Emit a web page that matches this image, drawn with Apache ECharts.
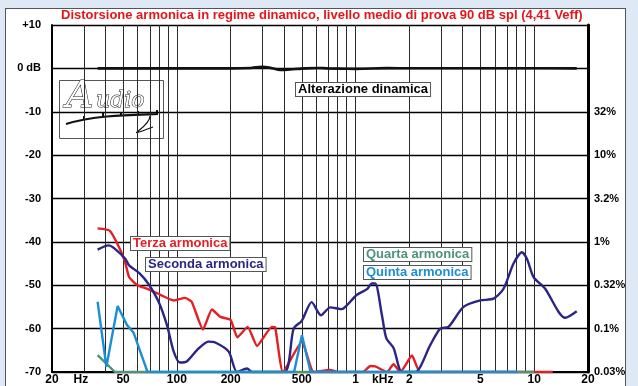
<!DOCTYPE html>
<html>
<head>
<meta charset="utf-8">
<script src="https://cdn.jsdelivr.net/npm/echarts@6/dist/echarts.min.js"></script>
<style>
  html, body { margin: 0; padding: 0; background: #dfe9f5; }
  #panel { position: absolute; left: 5px; top: 8px; width: 621px; height: 380px; background: #fff; border: 1px solid #555; box-sizing: border-box; }
  #chart { position: absolute; left: 0; top: 0; width: 638px; height: 386px; }
</style>
</head>
<body>
<div id="panel"></div>
<div id="chart"></div>
<script>
// Frequency axis: tick labels and where they sit (Hz)
const freqLabelPos  = [20, 29, 50, 100, 200, 500, 1000, 1420, 2000, 5000, 10000, 20000];
const freqLabelText = ['20', 'Hz', '50', '100', '200', '500', '1', 'kHz', '2', '5', '10', '20'];
// Vertical grid lines (Hz)
const gridFreqs = [30, 40, 50, 60, 70, 80, 90,
                   100, 200, 300, 400, 500, 600, 700, 800, 900,
                   1000, 2000, 3000, 4000, 5000, 6000, 7000, 8000, 9000, 10000];
// Right-hand scale: distortion percentage at each dB line
const pctTicks  = [-10, -20, -30, -40, -50, -60, -70];
const pctLabels = ['32%', '10%', '3.2%', '1%', '0.32%', '0.1%', '0.03%'];

// Seconda armonica (dB)
const secondaFreq = [36, 41.5, 45, 51.4, 54, 62, 69, 79, 88, 96, 104, 114, 130, 150, 164, 195, 217, 247, 263,
                     400, 450, 500, 568, 640, 722, 840, 896, 1018, 1159, 1234, 1289, 1405, 1486, 1634, 1820,
                     2160, 2618, 2978, 3313, 4020, 4986, 5921, 6733, 7660, 8530, 9100, 9915, 11520, 13670, 14900, 17300];
const secondaDb   = [-41.8, -40.8, -41.6, -43.9, -45.4, -47.3, -49.6, -53.8, -59.2, -65.3, -67.8, -67.5, -64.9, -63.0, -63.2, -65.3, -70, -69.2, -70,
                     -70, -60.0, -58.2, -53.9, -56.9, -55.1, -55.5, -54.6, -52.2, -50.9, -49.6, -49.6, -56.9, -62.2, -64.5, -70,
                     -70, -63.8, -60.0, -59.6, -55.0, -53.5, -53.1, -50.8, -45.0, -42.4, -43.9, -48.1, -50.8, -56.1, -57.5, -56.0];
// Terza armonica (dB)
const terzaFreq = [36, 42, 46, 51, 54, 60, 68, 81, 96, 111, 121, 140, 157, 175, 200, 218, 249, 281, 340, 355, 392,
                   501, 582, 720, 800, 1100, 1210, 1290, 1500, 1630, 1780, 2070, 2300, 12700];
const terzaDb   = [-36.9, -37.4, -40.1, -44.3, -48.1, -50.0, -50.8, -52.2, -53.5, -52.9, -53.8, -60.2, -55.6, -57.3, -58.0, -62.0, -59.6, -64.0, -59.6, -59.7, -70,
                   -63.0, -70, -69.5, -70, -70, -68.6, -68.7, -70, -68.2, -70, -66.2, -70, -70];
// Quarta armonica (dB)
const quartaFreq = [36, 45, 10000];
const quartaDb   = [-66.1, -70, -70];
// Quinta armonica (dB)
const quintaFreq = [36, 40.3, 46.6, 52.6, 57.2, 68.5, 453, 501, 560, 8000];
const quintaDb   = [-53.8, -68.8, -54.8, -59.2, -60.9, -70, -70, -61.5, -70, -70];
// Alterazione dinamica (dB)
const alterFreq = [36, 100, 200, 260, 300, 340, 380, 430, 500, 620, 700, 900, 1000, 1500, 2000, 5000, 10000, 17300];
const alterDb   = [0, 0, 0, 0.1, 0.35, 0.05, -0.35, -0.25, -0.05, 0.1, 0, -0.1, -0.12, 0.05, 0.03, 0.03, 0.03, 0];

const lg = Math.log10;
const toPoints = (fs, vs) => fs.map((f, i) => [lg(f), vs[i]]);
const FONT = '"Liberation Sans", Arial, sans-serif';

function freqLabel(v) {
  for (let i = 0; i < freqLabelPos.length; i++) {
    if (Math.abs(lg(freqLabelPos[i]) - v) < 1e-6) return freqLabelText[i];
  }
  return '';
}

function curve(name, fs, vs, color, z, smooth, width) {
  return {
    name, type: 'line', data: toPoints(fs, vs), z,
    showSymbol: false, smooth: smooth,
    lineStyle: { color, width: width || 2.4 },
    emphasis: { disabled: true }, silent: true
  };
}

function boxLabel(x, y, text, color) {
  return {
    type: 'text', left: x, top: y, z: 50,
    style: {
      text, fill: color, font: 'bold 13px ' + FONT,
      backgroundColor: '#fff', borderColor: '#555', borderWidth: 1,
      padding: [0, 2, 0, 2], lineHeight: 13
    }
  };
}

function tick(x, y) {
  return { type: 'polyline', shape: { points: [[x, y], [x, y - 4]] }, style: { stroke: '#111', lineWidth: 2 } };
}

const chart = echarts.init(document.getElementById('chart'), null, { renderer: 'canvas' });

chart.setOption({
  animation: false,
  grid: { left: 52, right: 50, top: 25, bottom: 12, containLabel: false },
  xAxis: {
    type: 'value', min: lg(20), max: lg(20000),
    axisLine: { show: true, onZero: false, lineStyle: { color: '#000', width: 2 } },
    axisTick: { show: false },
    splitLine: { show: false },
    axisLabel: {
      customValues: freqLabelPos.map(lg),
      formatter: freqLabel,
      color: '#000', fontWeight: 'bold', fontSize: 12, fontFamily: FONT, margin: 2
    }
  },
  yAxis: [{
    type: 'value', min: -70, max: 10, interval: 10, position: 'left',
    axisLine: { show: true, lineStyle: { color: '#000', width: 2 } },
    axisTick: { show: false },
    splitLine: { show: true, lineStyle: { color: '#000', width: 1.4 } },
    axisLabel: {
      formatter: v => v === 10 ? '+10' : (v === 0 ? '0 dB' : String(v)),
      color: '#000', fontWeight: 'bold', fontSize: 11, fontFamily: FONT, margin: 11
    }
  }, {
    type: 'value', min: -70, max: 10, interval: 10, position: 'right',
    axisLine: { show: true, lineStyle: { color: '#000', width: 3 } },
    axisTick: { show: false },
    splitLine: { show: false },
    axisLabel: {
      formatter: v => { const i = pctTicks.indexOf(v); return i >= 0 ? pctLabels[i] : ''; },
      color: '#000', fontWeight: 'bold', fontSize: 11, fontFamily: FONT, margin: 6
    }
  }],
  series: [
    {
      name: 'grid', type: 'line', data: [], silent: true,
      markLine: {
        z: 1, silent: true, symbol: ['none', 'none'], animation: false,
        label: { show: false },
        lineStyle: { color: '#2a2a2a', width: 1, type: 'solid' },
        emphasis: { disabled: true },
        data: gridFreqs.map(f => ({ xAxis: lg(f) }))
      }
    },
    curve('Terza armonica', terzaFreq, terzaDb, '#e31e24', 3, 0.15),
    curve('Seconda armonica', secondaFreq, secondaDb, '#2b2583', 4, 0.25),
    curve('Quarta armonica', quartaFreq, quartaDb, '#4c9478', 5, false),
    curve('Quinta armonica', quintaFreq, quintaDb, '#1b8fd2', 6, false),
    curve('Alterazione dinamica', alterFreq, alterDb, '#111', 7, 0.4, 2.6)
  ],
  graphic: [
    {
      type: 'text', left: 61, top: 9, z: 50,
      style: { text: 'Distorsione armonica in regime dinamico, livello medio di prova 90 dB spl (4,41 Veff)', fill: '#e3161d', font: 'bold 13px ' + FONT }
    },
    boxLabel(130, 236, 'Terza armonica', '#e31e24'),
    boxLabel(145, 257, 'Seconda armonica', '#2b2583'),
    boxLabel(363, 247, 'Quarta armonica', '#4c9478'),
    boxLabel(363, 265, 'Quinta armonica', '#1b8fd2'),
    boxLabel(295, 82, 'Alterazione dinamica', '#000'),
    // magazine logo
    {
      type: 'group', z: 40,
      children: [
        { type: 'rect', shape: { x: 59.5, y: 80.5, width: 104, height: 58 }, style: { fill: '#fff', stroke: '#555', lineWidth: 1 } },
        { type: 'text', x: 66, y: 78, style: { text: 'A', font: 'italic 38px "DejaVu Serif", serif', fill: '#fff', stroke: '#111', lineWidth: 1 } },
        { type: 'text', x: 96, y: 90, style: { text: 'udio', font: 'italic 22px "DejaVu Serif", serif', fill: '#fff', stroke: '#111', lineWidth: 1 } },
        { type: 'bezierCurve', shape: { x1: 66, y1: 124, x2: 158, y2: 114, cpx1: 95, cpy1: 115, cpx2: 130, cpy2: 115 }, style: { stroke: '#111', lineWidth: 2.2, fill: null } },
        tick(84, 120), tick(103, 117), tick(121, 116), tick(138, 115), tick(157, 114),
        { type: 'bezierCurve', shape: { x1: 150, y1: 116, x2: 153, y2: 127, cpx1: 150, cpy1: 128, cpx2: 118, cpy2: 140 }, style: { stroke: '#111', lineWidth: 1.2, fill: null } }
      ]
    }
  ]
});
</script>
</body>
</html>
